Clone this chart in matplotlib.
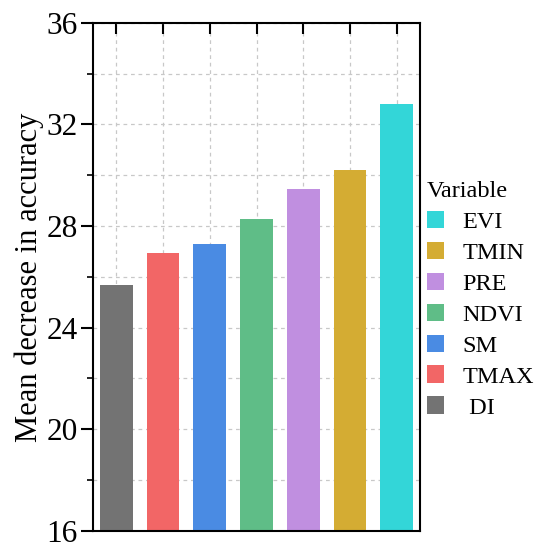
import numpy as np
from matplotlib import pyplot as plt
from matplotlib.patches import Patch
from matplotlib.ticker import MultipleLocator

variables = ['DI', 'TMAX', 'SM', 'NDVI', 'PRE', 'TMIN', 'EVI']
legend_labels = [' DI', 'TMAX', 'SM', 'NDVI', 'PRE', 'TMIN', 'EVI']
accuracy = [25.69, 26.94, 27.29, 28.27, 29.45, 30.21, 32.80]
colors = ['#737373', '#F26666', '#4A8BE3', '#5FBD87', '#C08FE0', '#D4AC33', '#33D6D8']


def main():
    plt.rcParams['font.family'] = ['Liberation Serif', 'DejaVu Serif']

    fig = plt.figure(figsize=(5.4, 5.45), dpi=100)
    ax = fig.add_axes([0.172, 0.026, 0.606, 0.932])

    x = np.arange(len(variables))
    ax.bar(x, accuracy, width=0.7, color=colors, zorder=2)

    ax.set_xlim(-0.5, len(variables) - 0.5)
    ax.set_ylim(16, 36)
    ax.set_xticks(x)
    ax.set_xticklabels([])
    ax.yaxis.set_major_locator(MultipleLocator(4))
    ax.yaxis.set_minor_locator(MultipleLocator(2))

    ax.tick_params(axis='y', which='major', direction='out', length=9, width=1.5,
                   labelsize=22.5, pad=2)
    ax.tick_params(axis='y', which='minor', direction='out', length=4, width=1.2)
    ax.tick_params(axis='x', which='major', direction='in', length=8, width=1.5,
                   top=True, bottom=True)

    ax.grid(True, which='both', axis='y', color='#c8c8c8', linestyle=(0, (3, 3)),
            linewidth=0.9, zorder=0)
    ax.grid(True, which='major', axis='x', color='#c8c8c8', linestyle=(0, (3, 3)),
            linewidth=0.9, zorder=0)
    ax.set_axisbelow(True)

    for s in ax.spines.values():
        s.set_linewidth(1.5)

    ax.set_ylabel('Mean decrease in accuracy', fontsize=22, labelpad=2)

    handles = [Patch(facecolor=c) for c in colors[::-1]]
    leg = fig.legend(handles, legend_labels[::-1], title='Variable',
                     loc='upper left', bbox_to_anchor=(0.777, 0.681),
                     frameon=False, fontsize=17.5, title_fontsize=17.5,
                     handlelength=0.72, handleheight=0.72, handletextpad=0.75,
                     labelspacing=0.36, borderaxespad=0, borderpad=0.3)
    leg._legend_box.align = 'left'

    fig.savefig('out.png', dpi=100)


if __name__ == '__main__':
    main()
